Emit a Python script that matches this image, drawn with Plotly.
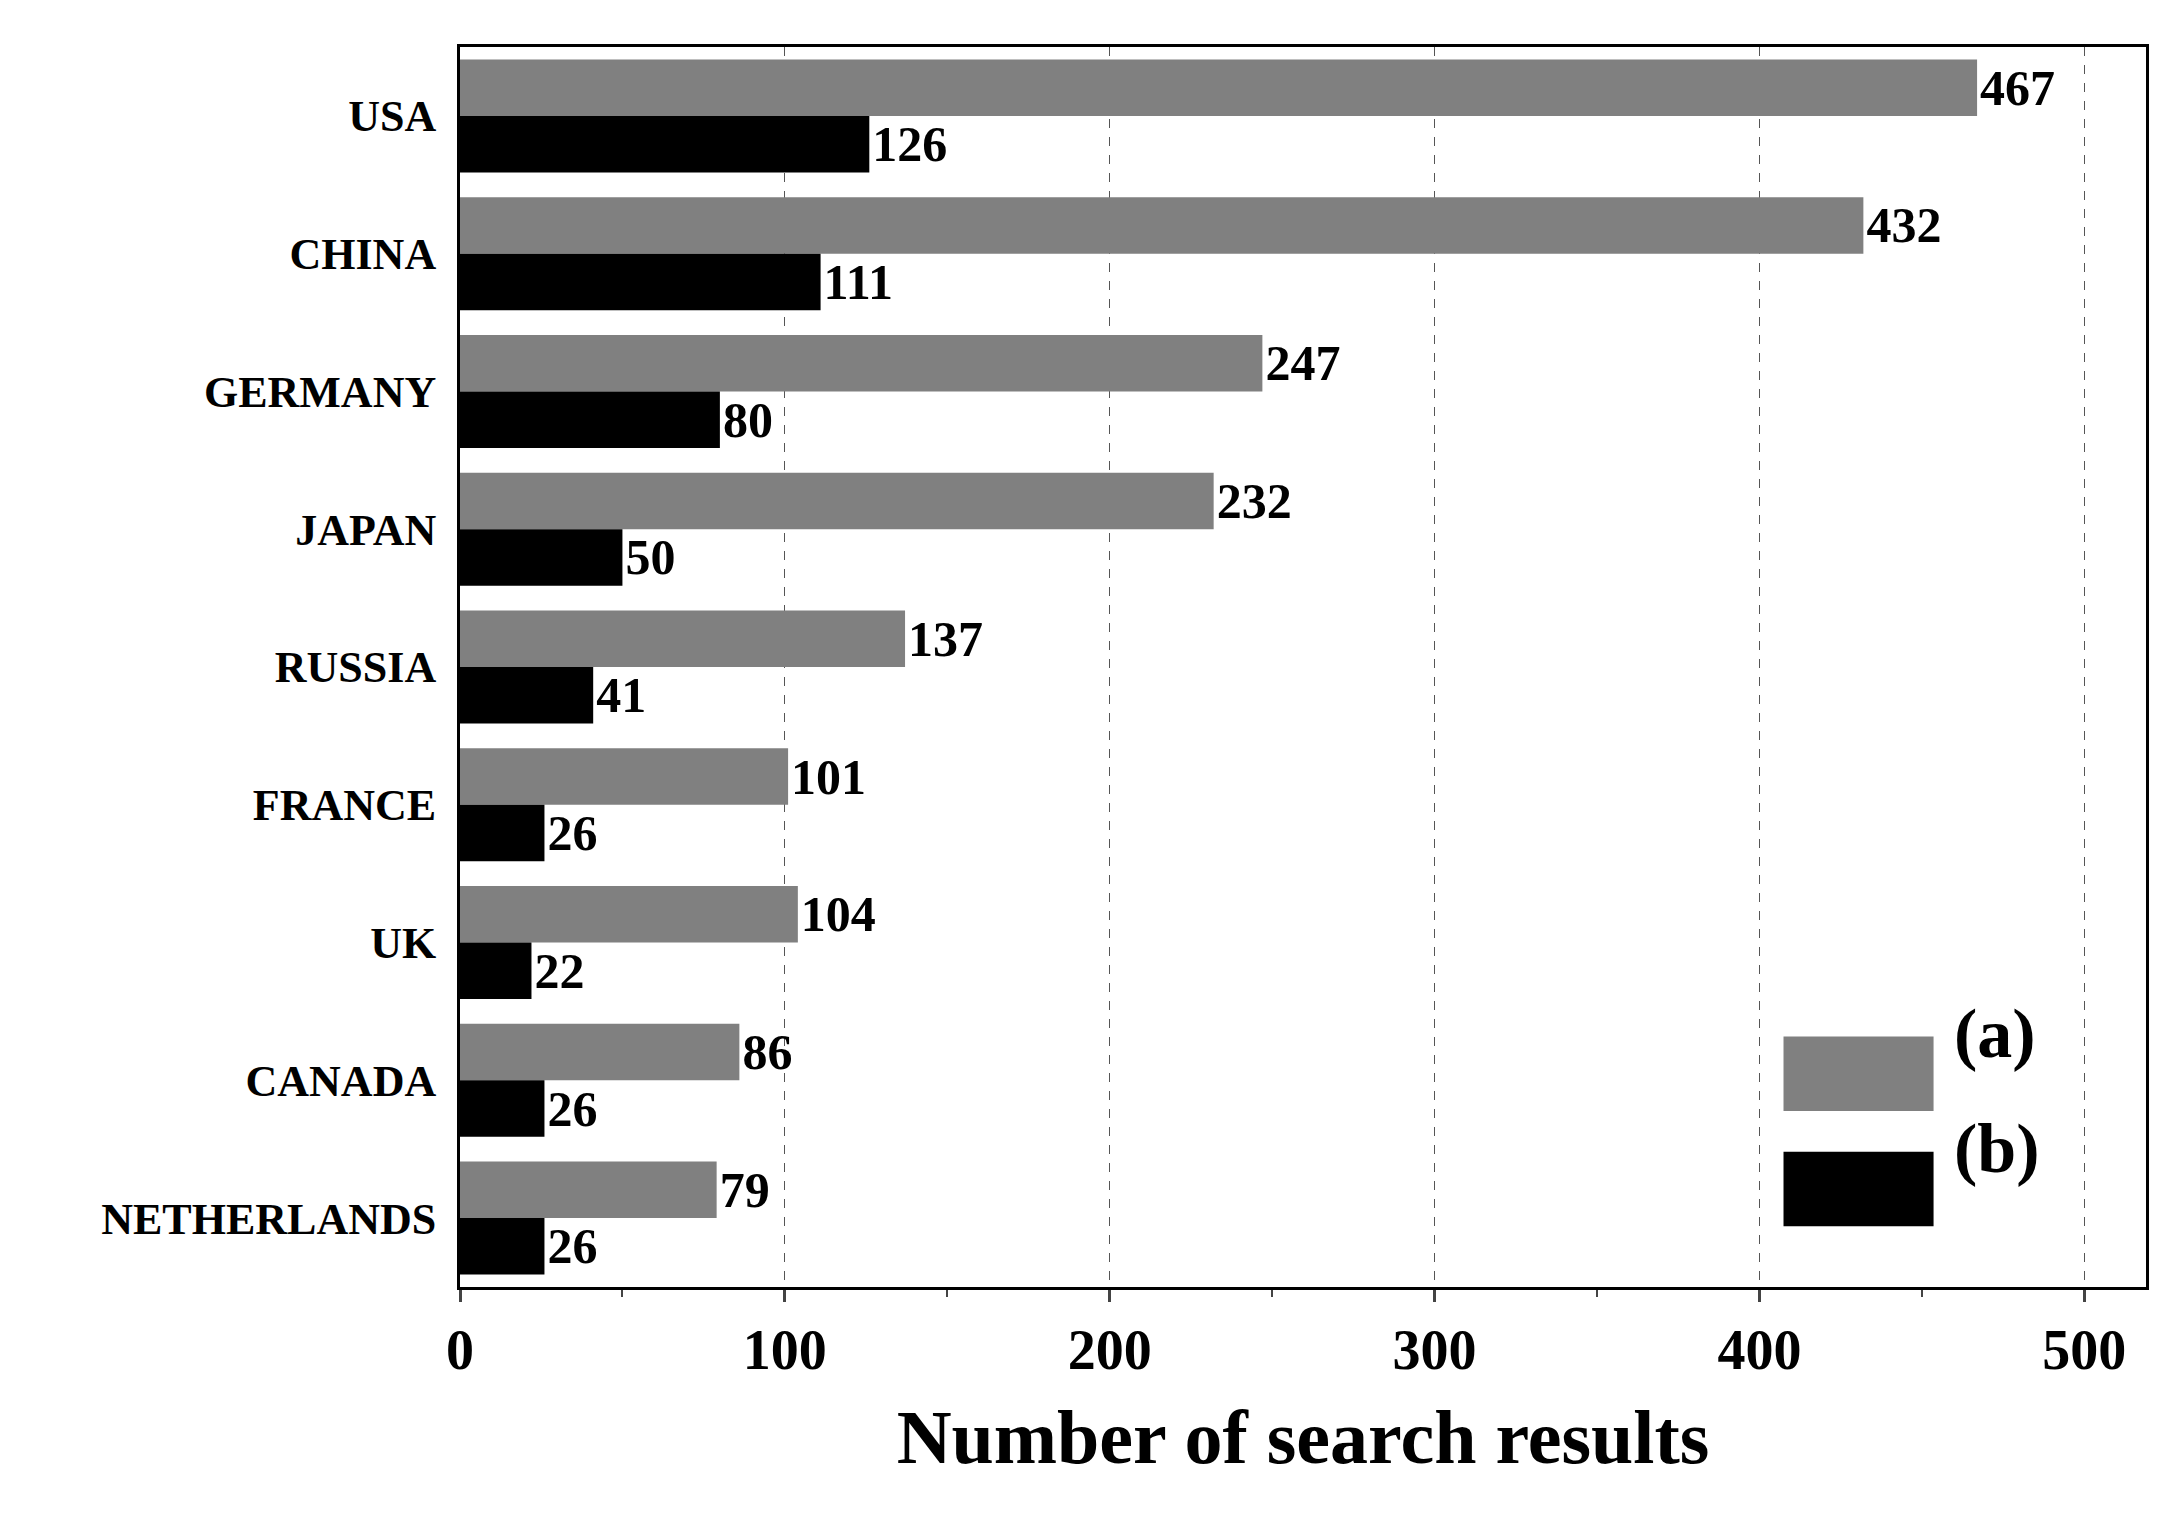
import plotly.graph_objects as go

countries = ["USA", "CHINA", "GERMANY", "JAPAN", "RUSSIA", "FRANCE", "UK", "CANADA", "NETHERLANDS"]
series_a = [467, 432, 247, 232, 137, 101, 104, 86, 79]
series_b = [126, 111, 80, 50, 41, 26, 22, 26, 26]
x_ticks = [0, 100, 200, 300, 400, 500]

F = "Liberation Serif"
fig = go.Figure()
fig.add_bar(y=countries, x=series_a, orientation="h", name="(a)",
            marker=dict(color="#808080", line=dict(width=0)),
            texttemplate="<b>%{x}</b>", textposition="outside", cliponaxis=False,
            textfont=dict(family=F, size=50, color="black"))
fig.add_bar(y=countries, x=series_b, orientation="h", name="(b)",
            marker=dict(color="black", line=dict(width=0)),
            texttemplate="<b>%{x}</b>", textposition="outside", cliponaxis=False,
            textfont=dict(family=F, size=50, color="black"))

fig.update_layout(
    width=2180, height=1527, plot_bgcolor="white", paper_bgcolor="white",
    barmode="group", bargap=0.18, bargroupgap=0, showlegend=False,
    margin=dict(l=452, r=42, t=39, b=248),
    font=dict(family=F, color="black"),
    xaxis=dict(range=[0, 519], tickmode="array", tickvals=x_ticks,
               ticktext=[f"<b>{v}</b>" for v in x_ticks], showgrid=True,
               gridcolor="#555", griddash="dash", gridwidth=1,
               showline=True, linecolor="black", linewidth=3, mirror=True,
               ticks="outside", ticklen=12, tickwidth=3,
               minor=dict(dtick=50, ticks="outside", ticklen=7, tickwidth=2),
               tickfont=dict(family=F, size=56),
               title=dict(text="<b>Number of search results</b>", font=dict(family=F, size=76), standoff=30),
               zeroline=False),
    yaxis=dict(autorange="reversed", showline=True, linecolor="black", linewidth=3, mirror=True,
               ticks="", tickfont=dict(family=F, size=44), ticklabelstandoff=12,
               tickmode="array", tickvals=countries, ticktext=[f"<b>{c}</b>" for c in countries]),
)

# legend boxes
for i, (col, lab) in enumerate([("#808080", "(a)"), ("black", "(b)")]):
    y0 = 0.142 - i * 0.093
    fig.add_shape(type="rect", xref="paper", yref="paper", x0=0.785, x1=0.874,
                  y0=y0, y1=y0 + 0.06, fillcolor=col, line=dict(width=0))
    fig.add_annotation(xref="paper", yref="paper", x=0.885, y=y0 + 0.03, xanchor="left",
                       text=f"<b>{lab}</b>", showarrow=False, font=dict(family=F, size=70))

fig.write_html("out.html")
